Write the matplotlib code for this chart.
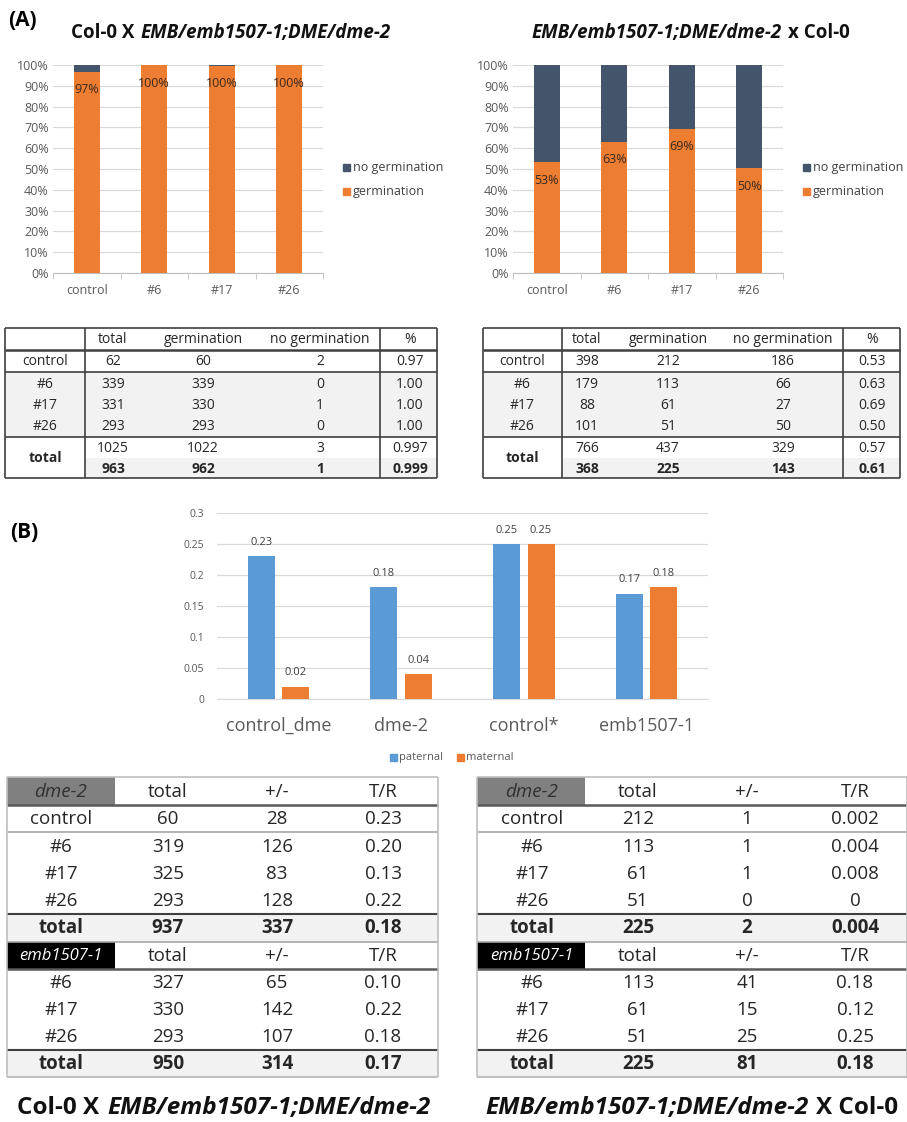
import numpy as np
import matplotlib
matplotlib.use("Agg")
import matplotlib.pyplot as plt
from matplotlib.patches import Rectangle

plt.rcParams['font.family'] = ['Open Sans', 'DejaVu Sans']

W, H = 907, 1122
ORANGE = '#ED7D31'
SLATE = '#44546A'
BLUE = '#5B9BD5'
GRID = '#D9D9D9'
TICK = '#595959'

# germination counts (A)
lines = ['control', '#6', '#17', '#26']
col0_x_mut_total = [62, 339, 331, 293]
col0_x_mut_germ = [60, 339, 330, 293]
col0_x_mut_none = [2, 0, 1, 0]
col0_x_mut_pct = ['0.97', '1.00', '1.00', '1.00']
col0_x_mut_sum = [['1025', '1022', '3', '0.997'], ['963', '962', '1', '0.999']]

mut_x_col0_total = [398, 179, 88, 101]
mut_x_col0_germ = [212, 113, 61, 51]
mut_x_col0_none = [186, 66, 27, 50]
mut_x_col0_pct = ['0.53', '0.63', '0.69', '0.50']
mut_x_col0_sum = [['766', '437', '329', '0.57'], ['368', '225', '143', '0.61']]

germ_cols = ['total', 'germination', 'no germination', '%']

# transmission ratios (B)
groups = ['control_dme', 'dme-2', 'control*', 'emb1507-1']
paternal = [0.23, 0.18, 0.25, 0.17]
maternal = [0.02, 0.04, 0.25, 0.18]

tr_cols = ['total', '+/-', 'T/R']
pat_dme = [['control', '60', '28', '0.23'], ['#6', '319', '126', '0.20'],
           ['#17', '325', '83', '0.13'], ['#26', '293', '128', '0.22']]
pat_dme_total = ['937', '337', '0.18']
pat_emb = [['#6', '327', '65', '0.10'], ['#17', '330', '142', '0.22'],
           ['#26', '293', '107', '0.18']]
pat_emb_total = ['950', '314', '0.17']

mat_dme = [['control', '212', '1', '0.002'], ['#6', '113', '1', '0.004'],
           ['#17', '61', '1', '0.008'], ['#26', '51', '0', '0']]
mat_dme_total = ['225', '2', '0.004']
mat_emb = [['#6', '113', '41', '0.18'], ['#17', '61', '15', '0.12'],
           ['#26', '51', '25', '0.25']]
mat_emb_total = ['225', '81', '0.18']

fig = plt.figure(figsize=(W / 100, H / 100), dpi=100)
fig.patch.set_facecolor('white')

# full-size canvas in pixel units for tables and headings
cv = fig.add_axes([0, 0, 1, 1])
cv.set_xlim(0, W)
cv.set_ylim(H, 0)
cv.axis('off')


def px_axes(x0, y0, x1, y1):
    return fig.add_axes([x0 / W, 1 - y1 / H, (x1 - x0) / W, (y1 - y0) / H])


def hline(y, x0, x1, color='#404040', lw=1.2):
    cv.plot([x0, x1], [y, y], color=color, lw=lw, solid_capstyle='butt')


def vline(x, y0, y1, color='#404040', lw=1.2):
    cv.plot([x, x], [y0, y1], color=color, lw=lw, solid_capstyle='butt')


def mixed_title(xc, y, parts, size):
    # bold title built from upright and italic pieces, centred on xc
    r = fig.canvas.get_renderer()
    items = []
    for s, style in parts:
        t = cv.text(0, y, s, fontsize=size, fontweight='bold', fontstyle=style,
                    ha='left', va='center', color='#111111')
        items.append(t)
    widths = [t.get_window_extent(r).width for t in items]
    gap = size * 0.45
    total = sum(widths) + gap * (len(items) - 1)
    x = xc - total / 2
    for t, w in zip(items, widths):
        t.set_x(x)
        x += w + gap


def germ_chart(box, totals, germ, leg_x):
    ax = px_axes(*box)
    pct = np.array(germ) / np.array(totals)
    xs = np.arange(len(lines))
    ax.bar(xs, pct, 0.39, color=ORANGE, zorder=3)
    ax.bar(xs, 1 - pct, 0.39, bottom=pct, color=SLATE, zorder=3)
    for x, p in zip(xs, pct):
        ax.text(x, p - 0.087, f"{p:.0%}", ha='center', va='center',
                fontsize=9, color='#3a2a20', zorder=4)
    ax.set_xlim(-0.5, 3.5)
    ax.set_ylim(0, 1)
    ax.set_yticks(np.arange(0, 1.01, 0.1))
    ax.set_yticklabels([f"{int(round(v * 100))}%" for v in np.arange(0, 1.01, 0.1)])
    ax.set_xticks(xs)
    ax.set_xticklabels(lines)
    ax.set_xticks(np.arange(-0.5, 3.6, 1), minor=True)
    ax.tick_params(axis='x', which='major', length=0, labelsize=9, colors=TICK, pad=8)
    ax.tick_params(axis='x', which='minor', length=4, color='#BFBFBF', direction='out')
    ax.tick_params(axis='y', length=0, labelsize=9, colors=TICK, pad=3)
    ax.grid(axis='y', color=GRID, lw=0.9, zorder=0)
    for s in ['left', 'right', 'top']:
        ax.spines[s].set_visible(False)
    ax.spines['bottom'].set_color('#BFBFBF')
    for y, c, lab in [(167, SLATE, 'no germination'), (191, ORANGE, 'germination')]:
        cv.add_patch(Rectangle((leg_x, y - 3.5), 7, 7, color=c))
        cv.text(leg_x + 10, y, lab, fontsize=9, color='#404040', va='center', ha='left')


def germ_table(xl, xr, v1, v2, cx, rows_tot, rows_germ, rows_none, rows_pct, sums):
    top, hb, cb, bb, bot = 328, 350, 372, 437, 478
    cv.add_patch(Rectangle((xl, cb), xr - xl, bb - cb, color='#F2F2F2', lw=0))
    cv.add_patch(Rectangle((v1, 458), xr - v1, bot - 458, color='#F2F2F2', lw=0))
    for y in (top, bot):
        hline(y, xl, xr)
    hline(hb, xl, xr, lw=1.8)
    hline(cb, xl, xr)
    hline(bb, xl, xr)
    for x in (xl, v1, v2, xr):
        vline(x, top, bot)
    fs = 10
    tc = '#262626'
    for c, lab in zip(cx[1:], germ_cols):
        cv.text(c, 339, lab, ha='center', va='center', fontsize=fs, color=tc)
    ys = [361, 384, 405, 426]
    for i, y in enumerate(ys):
        vals = [lines[i], str(rows_tot[i]), str(rows_germ[i]), str(rows_none[i]), rows_pct[i]]
        for c, v in zip(cx, vals):
            cv.text(c, y, v, ha='center', va='center', fontsize=fs, color=tc)
    cv.text(cx[0], 458, 'total', ha='center', va='center', fontsize=fs,
            fontweight='bold', color=tc)
    for y, vals, wt in [(448, sums[0], 'normal'), (469, sums[1], 'bold')]:
        for c, v in zip(cx[1:], vals):
            cv.text(c, y, v, ha='center', va='center', fontsize=fs, fontweight=wt, color=tc)


def tr_table(xl, xr, vl, cx, dme_rows, dme_tot, emb_rows, emb_tot):
    ys = [777, 805, 832, 914, 942, 969, 1050, 1077]
    fs = 13.5
    tc = '#262626'
    cv.add_patch(Rectangle((xl, ys[3]), xr - xl, ys[4] - ys[3], color='#F2F2F2', lw=0))
    cv.add_patch(Rectangle((xl, ys[6]), xr - xl, ys[7] - ys[6], color='#F2F2F2', lw=0))
    cv.add_patch(Rectangle((xl, ys[0]), vl - xl, ys[1] - ys[0], color='#808080', lw=0))
    cv.add_patch(Rectangle((xl, ys[4]), vl - xl, ys[5] - ys[4], color='black', lw=0))
    hline(ys[0], xl, xr, color='#BFBFBF')
    hline(ys[1], xl, xr, color='#595959', lw=1.8)
    hline(ys[2], xl, xr, color='#A6A6A6', lw=1.2)
    hline(ys[3], xl, xr, color='#404040', lw=1.5)
    hline(ys[4], xl, xr, color='#A6A6A6', lw=1.2)
    hline(ys[5], xl, xr, color='#595959', lw=1.8)
    hline(ys[6], xl, xr, color='#404040', lw=1.5)
    hline(ys[7], xl, xr, color='#BFBFBF', lw=1.5)
    vline(xl, ys[0], ys[7], color='#BFBFBF')
    vline(xr, ys[0], ys[7], color='#BFBFBF')

    cv.text(cx[0], 792, 'dme-2', ha='center', va='center', fontsize=fs,
            fontstyle='italic', color='#303030')
    cv.text(cx[0], 956, 'emb1507-1', ha='center', va='center', fontsize=fs - 1.5,
            fontstyle='italic', color='white')
    for y in (792, 956):
        for c, lab in zip(cx[1:], tr_cols):
            cv.text(c, y, lab, ha='center', va='center', fontsize=fs, color=tc)
    for y, row in zip([819, 847, 874, 901], dme_rows):
        for c, v in zip(cx, row):
            cv.text(c, y, v, ha='center', va='center', fontsize=fs, color=tc)
    for y, row in zip([983, 1010, 1037], emb_rows):
        for c, v in zip(cx, row):
            cv.text(c, y, v, ha='center', va='center', fontsize=fs, color=tc)
    for y, tot in [(928, dme_tot), (1064, emb_tot)]:
        for c, v in zip(cx, ['total'] + tot):
            cv.text(c, y, v, ha='center', va='center', fontsize=fs,
                    fontweight='bold', color=tc)


# panel A
cv.text(8, 20, '(A)', fontsize=15, fontweight='bold', ha='left', va='center')
mixed_title(231, 33, [('Col-0 X', 'normal'), ('EMB/emb1507-1;DME/dme-2', 'italic')], 13.5)
mixed_title(691, 33, [('EMB/emb1507-1;DME/dme-2', 'italic'), ('x Col-0', 'normal')], 13.5)

germ_chart((53, 65, 323, 273), col0_x_mut_total, col0_x_mut_germ, 343)
germ_chart((513, 65, 783, 273), mut_x_col0_total, mut_x_col0_germ, 803)

germ_table(5, 437, 85, 380, [45, 113, 203, 320, 410],
           col0_x_mut_total, col0_x_mut_germ, col0_x_mut_none, col0_x_mut_pct, col0_x_mut_sum)
germ_table(483, 900, 562, 843, [522, 587, 668, 783, 872],
           mut_x_col0_total, mut_x_col0_germ, mut_x_col0_none, mut_x_col0_pct, mut_x_col0_sum)

# panel B
cv.text(10, 532, '(B)', fontsize=15, fontweight='bold', ha='left', va='center')
axb = px_axes(217, 513, 708, 699)
xb = np.arange(len(groups))
bw = 0.22
bp = axb.bar(xb - 0.14, paternal, bw, color=BLUE, zorder=3)
bm = axb.bar(xb + 0.14, maternal, bw, color=ORANGE, zorder=3)
for bars, vals in [(bp, paternal), (bm, maternal)]:
    for b, v in zip(bars, vals):
        axb.annotate(f"{v:g}", (b.get_x() + b.get_width() / 2, v), xytext=(0, 14),
                     textcoords='offset pixels', ha='center', va='center',
                     fontsize=8, color='#404040')
axb.set_xlim(-0.5, 3.5)
axb.set_ylim(0, 0.3)
yt = [0, 0.05, 0.1, 0.15, 0.2, 0.25, 0.3]
axb.set_yticks(yt)
axb.set_yticklabels([f"{v:g}" for v in yt])
axb.set_xticks(xb)
axb.set_xticklabels(groups)
axb.tick_params(axis='x', length=0, labelsize=13, colors=TICK, pad=13)
axb.tick_params(axis='y', length=0, labelsize=7.5, colors=TICK, pad=9)
axb.grid(axis='y', color=GRID, lw=0.9, zorder=0)
for s in ['left', 'right', 'top']:
    axb.spines[s].set_visible(False)
axb.spines['bottom'].set_color(GRID)
for x, c, lab in [(390, BLUE, 'paternal'), (457, ORANGE, 'maternal')]:
    cv.add_patch(Rectangle((x, 757 - 3.5), 7, 7, color=c))
    cv.text(x + 9, 757, lab, fontsize=8, color=TICK, va='center', ha='left')

tr_table(7, 438, 115, [61, 168, 277, 383], pat_dme, pat_dme_total, pat_emb, pat_emb_total)
tr_table(477, 907, 585, [532, 638, 747, 855], mat_dme, mat_dme_total, mat_emb, mat_emb_total)

mixed_title(224, 1108, [('Col-0 X', 'normal'), ('EMB/emb1507-1;DME/dme-2', 'italic')], 17.5)
mixed_title(692, 1108, [('EMB/emb1507-1;DME/dme-2', 'italic'), ('X Col-0', 'normal')], 17.5)

fig.savefig('out.png', dpi=100, facecolor='white')
